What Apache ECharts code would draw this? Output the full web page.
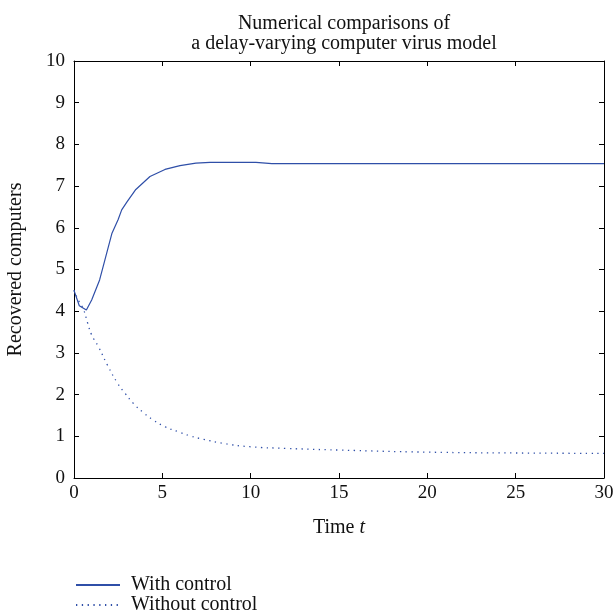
<!DOCTYPE html>
<html>
<head>
<meta charset="utf-8">
<script src="https://cdn.jsdelivr.net/npm/echarts@6/dist/echarts.min.js"></script>
<style>html,body{margin:0;padding:0;background:#fff;}#c{width:613px;height:616px;}</style>
</head>
<body>
<div id="c"></div>
<script>
var titleLines = ['Numerical comparisons of', 'a delay-varying computer virus model'];
var xTicks = [0, 5, 10, 15, 20, 25, 30];
var yTicks = [0, 1, 2, 3, 4, 5, 6, 7, 8, 9, 10];
var seriesNames = ['With control', 'Without control'];

var tWith = [0, 0.3, 0.7, 1.0, 1.45, 1.75, 2.15, 2.5, 2.7, 3.0, 3.5, 4.3, 5.15, 6.0, 6.9, 7.7, 10.3, 11.2, 14.3, 20, 25, 30];
var vWith = [4.5, 4.13, 4.03, 4.27, 4.75, 5.23, 5.87, 6.2, 6.43, 6.62, 6.92, 7.23, 7.4, 7.49, 7.55, 7.57, 7.57, 7.54, 7.54, 7.54, 7.54, 7.54];

var tWithout = [0, 0.3, 0.53, 0.77, 1.0, 1.38, 1.89, 2.47, 2.89, 3.36, 3.92, 4.49, 5.15, 5.9, 6.57, 7.32, 8.45, 9.96, 12, 15, 20, 25, 30];
var vWithout = [4.5, 4.22, 4.05, 3.72, 3.43, 3.15, 2.71, 2.27, 2.03, 1.79, 1.57, 1.39, 1.23, 1.11, 1.01, 0.93, 0.83, 0.75, 0.71, 0.67, 0.62, 0.6, 0.59];

function pairs(t, v) { return t.map(function (x, i) { return [x, v[i]]; }); }

var FONT = 'Liberation Serif';
var COLOR = '#2f4fa8';
var TXT = '#111';
var chart = echarts.init(document.getElementById('c'), null, { renderer: 'canvas' });
function axisBase() {
  return {
    type: 'value',
    axisLine: { show: true, onZero: false, lineStyle: { color: '#000', width: 1 } },
    axisTick: { show: true, inside: true, length: 5, lineStyle: { color: '#000' } },
    splitLine: { show: false }
  };
}
chart.setOption({
  backgroundColor: '#fff',
  animation: false,
  title: {
    text: titleLines.join('\n'),
    left: 339, textAlign: 'center', top: 9,
    textStyle: { fontFamily: FONT, fontSize: 20, fontWeight: 'normal', color: TXT, lineHeight: 20 }
  },
  grid: { left: 74, right: 9, top: 61, bottom: 138, containLabel: false, outerBoundsMode: 'none' },
  legend: {
    orient: 'vertical', left: 75, top: 575, padding: 0, itemWidth: 44, itemHeight: 10, itemGap: 0,
    itemStyle: { opacity: 0 },
    textStyle: { fontFamily: FONT, fontSize: 20, color: TXT, lineHeight: 19, padding: [0, 0, 0, 6] },
    data: seriesNames
  },
  xAxis: [
    Object.assign(axisBase(), {
      min: xTicks[0], max: xTicks[xTicks.length - 1], interval: 5,
      name: '{a|Time }{b|t}', nameLocation: 'middle', nameGap: 40,
      nameTextStyle: { rich: { a: { fontFamily: FONT, fontSize: 20, color: TXT }, b: { fontFamily: FONT, fontSize: 20, fontStyle: 'italic', color: TXT } } },
      axisLabel: { margin: 6, fontFamily: FONT, fontSize: 19, color: TXT }
    }),
    Object.assign(axisBase(), {
      position: 'top', min: xTicks[0], max: xTicks[xTicks.length - 1], interval: 5,
      axisLabel: { show: false }
    })
  ],
  yAxis: [
    Object.assign(axisBase(), {
      min: yTicks[0], max: yTicks[yTicks.length - 1], interval: 1,
      name: 'Recovered computers', nameLocation: 'middle', nameGap: 48,
      nameTextStyle: { fontFamily: FONT, fontSize: 20, color: TXT },
      axisLabel: { margin: 9, fontFamily: FONT, fontSize: 19, color: TXT }
    }),
    Object.assign(axisBase(), {
      position: 'right', min: yTicks[0], max: yTicks[yTicks.length - 1], interval: 1,
      axisLabel: { show: false }
    })
  ],
  series: [
    { name: seriesNames[0], type: 'line', symbol: 'none', smooth: false, data: pairs(tWith, vWith),
      lineStyle: { color: COLOR, width: 1.2, type: 'solid' }, itemStyle: { color: COLOR } },
    { name: seriesNames[1], type: 'line', symbol: 'none', smooth: true, data: pairs(tWithout, vWithout),
      lineStyle: { color: COLOR, width: 1.3, type: [1.3, 4.5] }, itemStyle: { color: COLOR } }
  ]
});
</script>
</body>
</html>
